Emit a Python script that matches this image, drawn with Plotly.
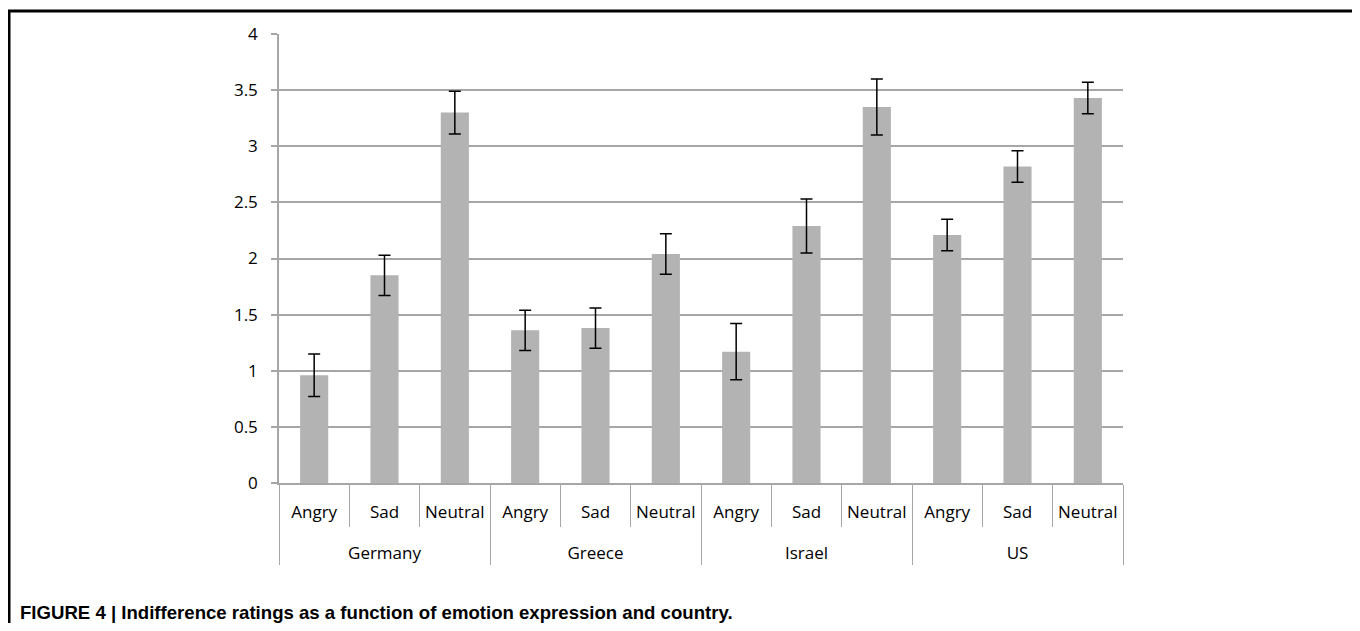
import plotly.graph_objects as go

countries = ["Germany", "Greece", "Israel", "US"]
emotions = ["Angry", "Sad", "Neutral"]
means = {
    "Germany": [0.96, 1.85, 3.30],
    "Greece": [1.36, 1.38, 2.04],
    "Israel": [1.17, 2.29, 3.35],
    "US": [2.21, 2.82, 3.43],
}
errors = {
    "Germany": [0.19, 0.18, 0.19],
    "Greece": [0.18, 0.18, 0.18],
    "Israel": [0.25, 0.24, 0.25],
    "US": [0.14, 0.14, 0.14],
}
y_ticks = [0, 0.5, 1, 1.5, 2, 2.5, 3, 3.5, 4]
y_ticktext = ["0", "0.5", "1", "1.5", "2", "2.5", "3", "3.5", "4"]

# invisible spacer that makes the first label row a little taller,
# pushing the country row (and dividers) down like the reference
SP = "<span style='color:rgba(0,0,0,0);font-size:22px'>.</span>"

outer = ["<br>" + c for c in countries for _ in emotions]
inner = [SP + e + SP for _ in countries for e in emotions]
vals = [v for c in countries for v in means[c]]
errs = [v for c in countries for v in errors[c]]

# page has an 8px body margin; figure sized to fill the rest
W, H = 1344, 615
L, T = 271, 26
PW, PH = 844, 449

fig = go.Figure()
fig.add_trace(go.Bar(
    x=[outer, inner], y=vals,
    marker=dict(color="#b3b3b3", line=dict(width=0)),
    width=0.4,
    error_y=dict(type="data", array=errs, visible=True, color="#000000",
                 thickness=1.5, width=6),
    showlegend=False,
    hoverinfo="y",
))

font_family = "Open Sans, Noto Sans, sans-serif"

def px(xp):
    return (xp - 8 - L) / PW

def py(yp):
    return (T + PH - (yp - 8)) / PH

fig.update_layout(
    width=W, height=H,
    margin=dict(l=L, r=W - L - PW, t=T, b=H - T - PH, autoexpand=False),
    paper_bgcolor="white", plot_bgcolor="white",
    font=dict(family=font_family, size=16, color="#000000"),
    xaxis=dict(
        type="multicategory",
        automargin=False,
        tickangle=0,
        showline=True, linecolor="#a6a6a6", linewidth=1.5,
        showgrid=False,
        ticks="outside", tickson="boundaries", ticklen=42, tickcolor="#a6a6a6",
        tickwidth=1,
        showdividers=True, dividercolor="#a6a6a6", dividerwidth=1,
        tickfont=dict(family=font_family, size=17, color="#000000"),
        ticklabelstandoff=13,
    ),
    yaxis=dict(
        range=[0, 4], tickvals=y_ticks, ticktext=y_ticktext,
        automargin=False,
        showgrid=True, gridcolor="#a6a6a6", gridwidth=1.5,
        showline=True, linecolor="#a6a6a6", linewidth=1.5,
        ticks="outside", ticklen=6, tickcolor="#a6a6a6", tickwidth=1.5,
        zeroline=False,
        tickfont=dict(family=font_family, size=17, color="#000000"),
        ticklabelstandoff=10,
    ),
    shapes=[dict(type="rect", xref="paper", yref="paper",
                 x0=px(9), x1=px(1355),
                 y0=py(660), y1=py(11),
                 line=dict(color="#000000", width=3), fillcolor="rgba(0,0,0,0)",
                 layer="below")],
    annotations=[dict(
        text="<b>FIGURE 4 | Indifference ratings as a function of emotion expression and country.</b>",
        xref="paper", yref="paper", x=px(18), y=py(612),
        xanchor="left", yanchor="middle", showarrow=False,
        font=dict(family="Liberation Sans, Arial, sans-serif", size=18.6, color="#000000"),
    )],
)

fig.write_html("out.html")
